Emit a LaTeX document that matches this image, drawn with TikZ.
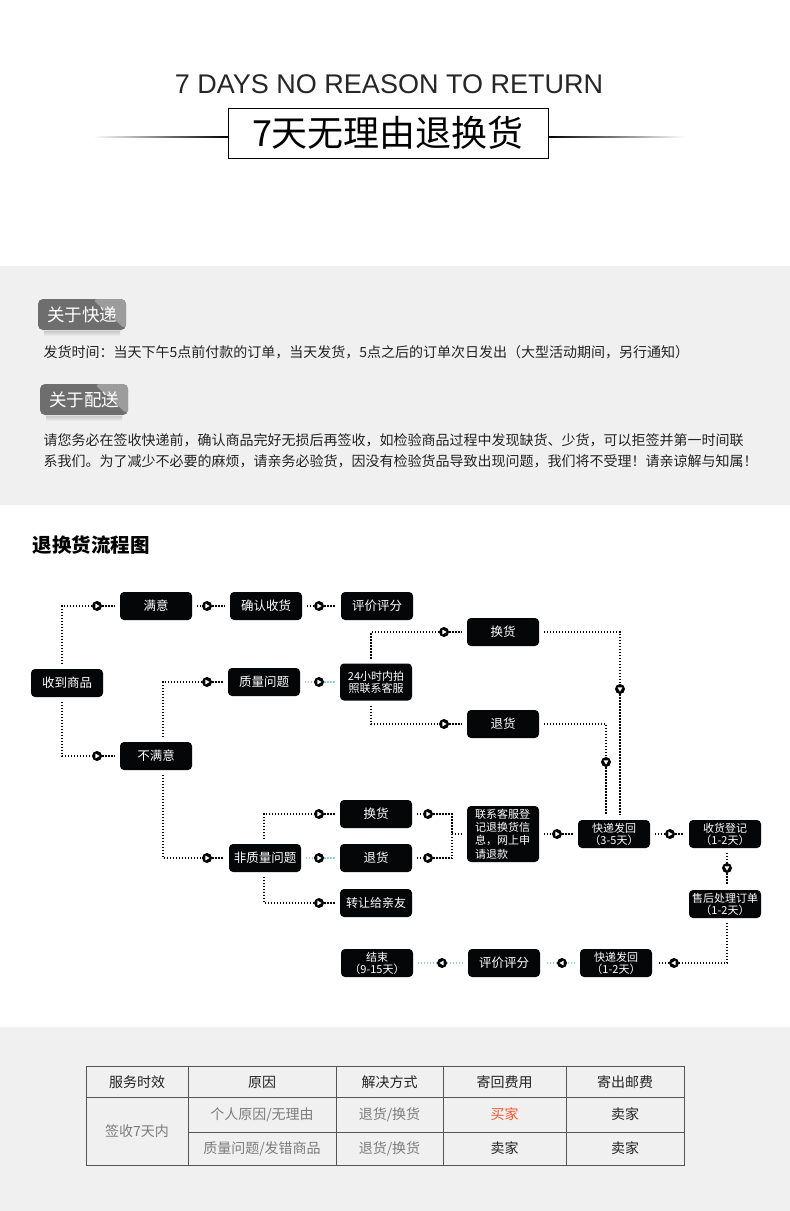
\documentclass[tikz,border=0pt]{standalone}
\usepackage{fontspec}
\setmainfont{Noto Sans CJK SC}
\newfontfamily\latinfont{Liberation Sans}
\usetikzlibrary{positioning,calc}
\definecolor{bandc}{HTML}{F0F0F0}
\definecolor{boxc}{HTML}{050608}
\definecolor{bluec}{HTML}{8CCFF2}
\definecolor{tagc}{HTML}{6E6E6E}
\definecolor{tagl}{HTML}{9C9C9C}
\definecolor{gridc}{HTML}{555555}
\definecolor{redc}{HTML}{F25A2C}
\definecolor{greyt}{HTML}{7C7C7C}
\definecolor{textc}{HTML}{222222}

\begin{document}
\begin{tikzpicture}[x=1pt,y=-1pt,
      fbox/.style={fill=boxc,rounded corners=4pt,minimum width=72pt,minimum height=28pt,inner sep=0pt,outer sep=5pt,
        text=white,align=center,font=\fontsize{12.5}{14}\selectfont},
      twol/.style={font=\fontsize{11}{12}\selectfont},
      dl/.style={line width=1.3pt,dash pattern=on 1.3pt off 1.7pt},
      bl/.style={dl,draw=bluec},
      mk/.style={circle,fill=black,inner sep=0pt,minimum size=10pt},
      tag/.style={rounded corners=5pt,minimum width=88pt,minimum height=31pt,inner sep=0pt,text=white,fill=tagc,
        font=\fontsize{17.5}{20}\selectfont,
        path picture={\fill[tagl] ($(path picture bounding box.north east)+(-34pt,0pt)$) -- (path picture bounding box.north east)
          -- (path picture bounding box.south east) -- cycle;}},
      body/.style={anchor=west,text=textc,align=left},
      cell/.style={font=\fontsize{14}{16}\selectfont,text=textc}]
    \useasboundingbox (0,0) rectangle (790,1211);
    \fill[white] (0,0) rectangle (790,1211);
    \fill[bandc] (0,266) rectangle (790,505);
    \fill[bandc] (0,1027) rectangle (790,1211);

    % title
    \node[font=\latinfont\fontsize{27}{30}\selectfont,text=black!85] (entitle) at (389,84) {7 DAYS NO REASON TO RETURN};
    \node[draw,line width=1pt,minimum width=320pt,minimum height=50pt,inner sep=0pt,font=\fontsize{36}{40}\selectfont] (cntitle) at (388,133) {7天无理由退换货};
    \shade[left color=white,right color=black] (93,136.6) rectangle (228,137.6);
    \shade[left color=black,right color=white] (548,136.6) rectangle (685,137.6);

    % notes
    \node[tag] (tagA) at (82,314.5) {关于快递};
    \shade[top color=black!22,bottom color=bandc] (44,331) rectangle (120,336);
    \node[body,font=\fontsize{14}{16}\selectfont] (noteA) at (40,352) {发货时间：当天下午5点前付款的订单，当天发货，5点之后的订单次日发出（大型活动期间，另行通知）};
    \node[tag] (tagB) at (84,399.5) {关于配送};
    \shade[top color=black!22,bottom color=bandc] (46,416) rectangle (122,421);
    \node[body,font=\fontsize{14}{21}\selectfont] (noteB) at (40,450.5) {请您务必在签收快递前，确认商品完好无损后再签收，如检验商品过程中发现缺货、少货，可以拒签并第一时间联\\系我们。为了减少不必要的麻烦，请亲务必验货，因没有检验货品导致出现问题，我们将不受理！请亲谅解与知属！};

    % flow chart
    \node[body,font=\bfseries\fontsize{19.5}{22}\selectfont,text=black] (flowtitle) at (29,545) {退换货流程图};
    \node[fbox] (recv) at (67,683) {收到商品};
    \node[fbox] (sat) at (156,606) {满意};
    \node[fbox] (confirm) at (266,606) {确认收货};
    \node[fbox] (rateA) at (377,606) {评价评分};
    \node[fbox] (unsat) at (156,756) {不满意};
    \node[fbox] (qual) at (264,682) {质量问题};
    \node[fbox,twol,minimum height=37pt] (photo) at (376,682) {24小时内拍\\照联系客服};
    \node[fbox] (swapA) at (503,632) {换货};
    \node[fbox] (retA) at (503,724) {退货};
    \node[fbox] (nonq) at (265,858) {非质量问题};
    \node[fbox] (swapB) at (376,814) {换货};
    \node[fbox] (retB) at (376,858) {退货};
    \node[fbox,font=\fontsize{12}{14}\selectfont] (gift) at (376,903) {转让给亲友};
    \node[fbox,twol,align=left,text width=56pt,minimum height=56pt,font=\fontsize{11}{13.3}\selectfont] (reg) at (503,834) {联系客服登\\记退换货信\\息，网上申\\请退款};
    \node[fbox,twol] (shipA) at (614,834) {快递发回\\（3-5天）};
    \node[fbox,twol] (recvreg) at (725,834) {收货登记\\（1-2天）};
    \node[fbox,twol] (proc) at (725,904) {售后处理订单\\（1-2天）};
    \node[fbox,twol] (shipB) at (616,963) {快递发回\\（1-2天）};
    \node[fbox] (rateB) at (504,963) {评价评分};
    \node[fbox,twol] (done) at (377,963) {结束\\（9-15天）};

    \foreach \n/\mx/\my/\a in {m1/97/606/0,m2/207/606/0,m3/319/606/0,m4/97/756/0,m5/207/682/0,m6/319/682/0,
        m7/444/632/0,m8/444/724/0,m9/620/689/-90,m10/606/762/-90,m11/207/858/0,m12/319/814/0,m13/319/858/0,
        m14/319/903/0,m15/428/814/0,m16/428/858/0,m17/557/834/0,m18/670/834/0,m19/727/868/-90,
        m20/674/963/180,m21/562/963/180,m22/442/963/180}{
      \node[mk] (\n) at (\mx,\my) {};
      \fill[white,shift={(\n.center)},rotate=\a] (-1.6pt,-2.4pt) -- (2.6pt,0pt) -- (-1.6pt,2.4pt) -- cycle;
    }
    \coordinate (jn) at (452,834);

    \draw[dl] ([xshift=-5pt]recv.north) |- (m1) -- (sat);
    \draw[dl] (sat) -- (m2) -- (confirm);
    \draw[dl] (confirm) -- (m3) -- (rateA);
    \draw[dl] ([xshift=-5pt]recv.south) |- (m4) -- (unsat);
    \draw[dl] ([xshift=7pt]unsat.north) |- (m5) -- (qual);
    \draw[bl] (qual) -- (m6) -- (photo);
    \draw[dl] ([xshift=-5pt]photo.north) |- (m7) -- (swapA);
    \draw[dl] ([xshift=-5pt]photo.south) |- (m8) -- (retA);
    \draw[dl] (swapA.east) -| (m9);
    \draw[dl] (m9) -- ([xshift=6pt]shipA.north);
    \draw[dl] (retA.east) -| (m10);
    \draw[dl] (m10) -- ([xshift=-8pt]shipA.north);
    \draw[dl] ([xshift=7pt]unsat.south) |- (m11) -- (nonq);
    \draw[dl] ([xshift=-1pt]nonq.north) |- (m12) -- (swapB);
    \draw[bl] (nonq) -- (m13) -- (retB);
    \draw[dl] ([xshift=-1pt]nonq.south) |- (m14) -- (gift);
    \draw[dl] (swapB) -- (m15) -| (jn);
    \draw[dl] (retB) -- (m16) -| (jn);
    \draw[dl] (jn) -- (reg);
    \draw[dl] (reg) -- (m17) -- (shipA);
    \draw[dl] (shipA) -- (m18) -- (recvreg);
    \draw[dl] ([xshift=2pt]recvreg.south) -- (m19) -- ([xshift=2pt]proc.north);
    \draw[dl] ([xshift=2pt]proc.south) |- (m20) -- (shipB);
    \draw[bl] (shipB) -- (m21) -- (rateB);
    \draw[bl] (rateB) -- (m22) -- (done);

    % table
    \draw[gridc,line width=1pt] (86,1066) rectangle (684,1165);
    \foreach \cx in {188,336,443,566}
      \draw[gridc,line width=1pt] (\cx,1066) -- (\cx,1165);
    \draw[gridc,line width=1pt] (86,1097) -- (684,1097);
    \draw[gridc,line width=1pt] (188,1132) -- (684,1132);
    \node[cell] (h1) at (137,1082) {服务时效};
    \node[cell] (h2) at (262,1082) {原因};
    \node[cell] (h3) at (389.5,1082) {解决方式};
    \node[cell] (h4) at (504.5,1082) {寄回费用};
    \node[cell] (h5) at (625,1082) {寄出邮费};
    \node[cell,text=greyt] (c1) at (137,1131) {签收7天内};
    \node[cell,text=greyt] (c2) at (262,1114.5) {个人原因/无理由};
    \node[cell,text=greyt] (c3) at (389.5,1114.5) {退货/换货};
    \node[cell,text=redc] (c4) at (504.5,1114.5) {买家};
    \node[cell] (c5) at (625,1114.5) {卖家};
    \node[cell,text=greyt] (d2) at (262,1148.5) {质量问题/发错商品};
    \node[cell,text=greyt] (d3) at (389.5,1148.5) {退货/换货};
    \node[cell] (d4) at (504.5,1148.5) {卖家};
    \node[cell] (d5) at (625,1148.5) {卖家};
  \end{tikzpicture}
\end{document}
